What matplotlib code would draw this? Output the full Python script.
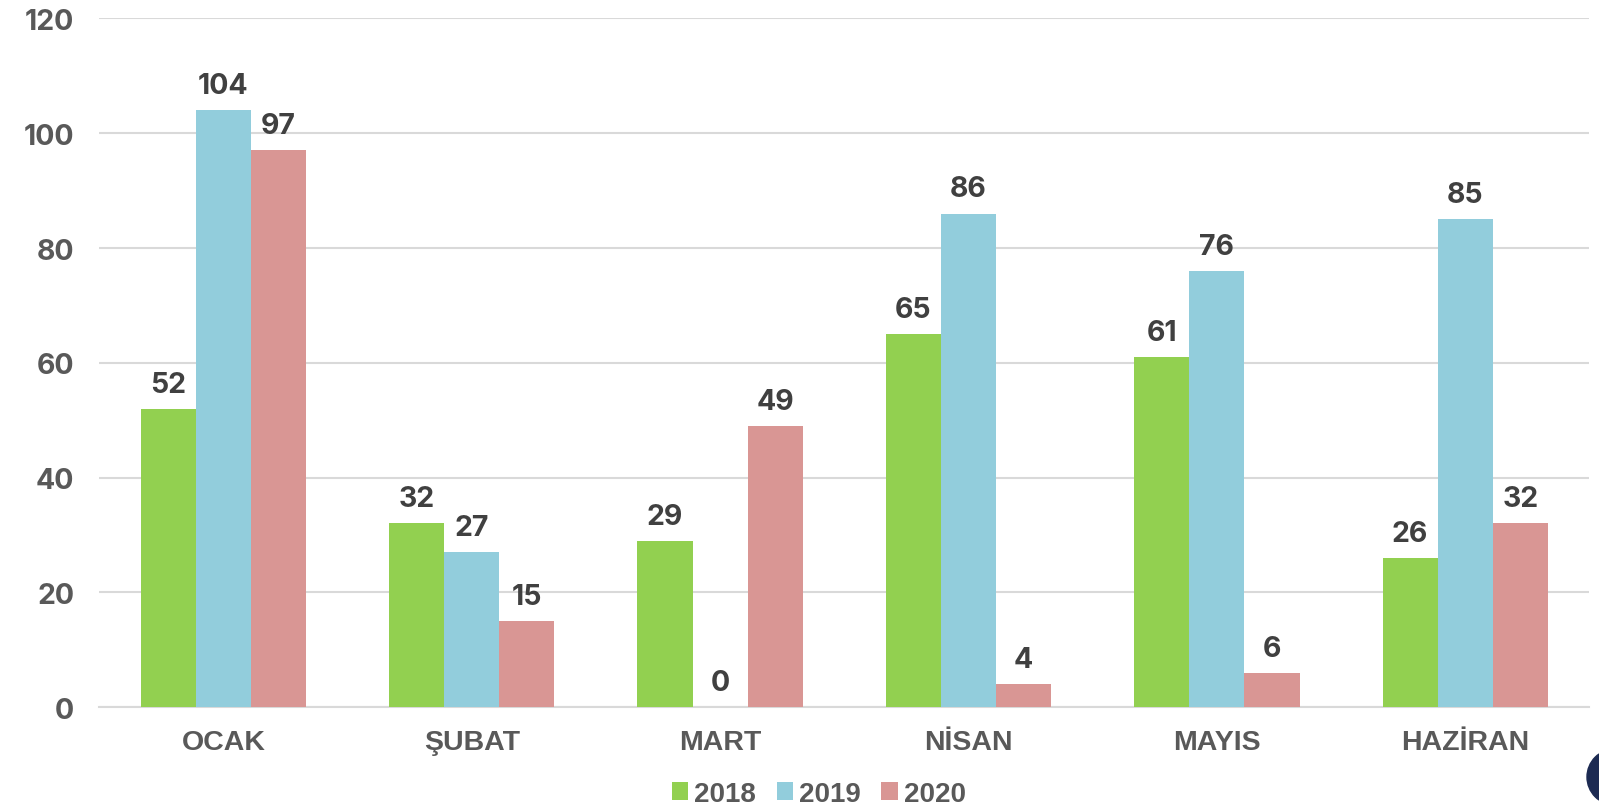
import matplotlib.pyplot as plt
import numpy as np
from matplotlib.patches import Circle
from matplotlib.transforms import IdentityTransform

months = ["OCAK", "ŞUBAT", "MART", "NİSAN", "MAYIS", "HAZİRAN"]
v2018 = [52, 32, 29, 65, 61, 26]
v2019 = [104, 27, 0, 86, 76, 85]
v2020 = [97, 15, 49, 4, 6, 32]
years = ["2018", "2019", "2020"]
colors = ["#92d050", "#92cddc", "#d99694"]

fig = plt.figure(figsize=(15.99, 8.12), dpi=100)
ax = fig.add_axes([0.062, 0.128, 0.932, 0.848])

x = np.arange(len(months))
w = 0.222
for i, (vals, c, lab) in enumerate(zip([v2018, v2019, v2020], colors, years)):
    bars = ax.bar(x + (i - 1) * w, vals, w, color=c, label=lab, zorder=3)
    for b, v in zip(bars, vals):
        ax.annotate(str(v), (b.get_x() + b.get_width() / 2, v),
                    xytext=(0, 8), textcoords="offset points",
                    ha="center", va="bottom", fontsize=20.5, fontweight="bold",
                    family=["Inter", "DejaVu Sans"], color="#404040")

ax.set_xlim(-0.5, 5.5)
ax.set_ylim(0, 120)
ax.set_yticks(range(0, 121, 20))
ax.set_xticks(x)
ax.set_xticklabels(months)
ax.grid(axis="y", color="#d9d9d9", linewidth=1.5, zorder=0)
for s in ["top", "right", "left"]:
    ax.spines[s].set_visible(False)
ax.spines["bottom"].set_color("#d9d9d9")
ax.spines["bottom"].set_linewidth(1.5)
ax.tick_params(length=0)
ax.tick_params(axis="y", pad=18)
ax.tick_params(axis="x", pad=16)
for t in ax.get_xticklabels():
    t.set_family("Liberation Sans")
    t.set_fontweight("bold")
    t.set_color("#595959")
    t.set_fontsize(20.5)
for t in ax.get_yticklabels():
    t.set_family(["Inter", "DejaVu Sans"])
    t.set_fontweight("bold")
    t.set_color("#595959")
    t.set_fontsize(20.5)

leg = fig.legend(loc="center", bbox_to_anchor=(0.512, 0.021), ncol=3, frameon=False,
                 handlelength=0.6, handleheight=0.6, handletextpad=0.2,
                 columnspacing=0.75, prop={"family": "Liberation Sans",
                                           "weight": "bold", "size": 20})
for t in leg.get_texts():
    t.set_color("#595959")

# partial logo circle at bottom right corner
fig.patches.append(Circle((1615, 34), 28, transform=IdentityTransform(),
                          color="#1c2a52", zorder=5))

fig.savefig("out.png", dpi=100)
